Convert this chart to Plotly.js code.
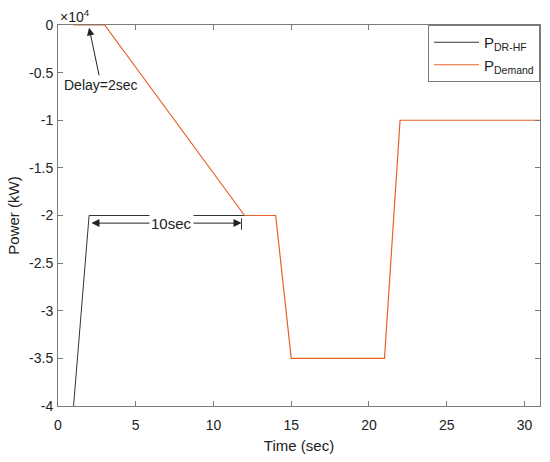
<!DOCTYPE html>
<html><head><meta charset="utf-8">
<script src="https://cdn.plot.ly/plotly-3.0.1.min.js"></script>
<style>body{margin:0;padding:0;background:#fff}#chart{width:550px;height:462px}</style>
</head><body><div id="chart"></div>
<script>
// Time (sec) and power (kW)
const timeDRHF = [1, 2, 12];
const powerDRHF = [-40000, -20000, -20000];
const timeDemand = [1, 3, 12, 14, 15, 21, 22, 31];
const powerDemand = [0, 0, -20000, -20000, -35000, -35000, -10000, -10000];
const xTicks = [0, 5, 10, 15, 20, 25, 30];
const yTickVals = [-40000, -35000, -30000, -25000, -20000, -15000, -10000, -5000, 0];
const yTickText = ['-4', '-3.5', '-3', '-2.5', '-2', '-1.5', '-1', '-0.5', '0'];

const font = 'Liberation Sans, Arial, sans-serif';
const axisCol = '#7a7a7a';
const txtCol = '#222';

const traces = [
  {x: timeDRHF, y: powerDRHF, mode: 'lines', name: 'P<sub>DR-HF</sub>',
   line: {color: '#333333', width: 1}},
  {x: timeDemand, y: powerDemand, mode: 'lines', name: 'P<sub>Demand</sub>',
   line: {color: '#E8602A', width: 1.2}}
];

const axisBase = {
  showgrid: false, zeroline: false, showline: true, linecolor: axisCol, linewidth: 1,
  mirror: 'ticks', ticks: 'inside', ticklen: 5, tickcolor: axisCol,
  tickfont: {family: font, size: 14, color: txtCol}
};

const layout = {
  width: 550, height: 462,
  margin: {l: 58, r: 10, t: 25, b: 56},
  paper_bgcolor: '#fff', plot_bgcolor: '#fff',
  showlegend: true,
  legend: {x: 1, xanchor: 'right', y: 1, yanchor: 'top', itemwidth: 45,
    bordercolor: axisCol, borderwidth: 1, bgcolor: '#fff',
    font: {family: font, size: 15, color: txtCol}, tracegroupgap: 0},
  xaxis: Object.assign({}, axisBase, {
    range: [0, 31], tickvals: xTicks, ticktext: xTicks.map(String), ticklabelstandoff: 6,
    title: {text: 'Time (sec)', font: {family: font, size: 15, color: txtCol}, standoff: 8}
  }),
  yaxis: Object.assign({}, axisBase, {
    range: [-40000, 0], tickvals: yTickVals, ticktext: yTickText, ticklabelstandoff: 1,
    title: {text: 'Power (kW)', font: {family: font, size: 15, color: txtCol}, standoff: 5}
  }),
  shapes: [
    {type: 'line', xref: 'x', yref: 'y', x0: 11.8, x1: 11.8, y0: -20300, y1: -21500,
     line: {color: '#333', width: 1}}
  ],
  annotations: [
    {xref: 'paper', yref: 'paper', x: 0.0, y: 0.995, xanchor: 'left', yanchor: 'bottom',
     text: '×10<sup>4</sup>', showarrow: false, font: {family: font, size: 14, color: txtCol}},
    {xref: 'x', yref: 'y', x: 2, y: -300, text: 'Delay=2sec', showarrow: true,
     arrowhead: 2, arrowsize: 1.5, arrowwidth: 1, arrowcolor: '#222', ax: 12, ay: 57,
     font: {family: font, size: 14, color: txtCol}},
    {xref: 'x', yref: 'y', x: 2.15, y: -20800, axref: 'x', ayref: 'y', ax: 7, ay: -20800,
     text: '', showarrow: true, arrowhead: 2, arrowsize: 1.6, arrowwidth: 1, arrowcolor: '#222'},
    {xref: 'x', yref: 'y', x: 11.8, y: -20800, axref: 'x', ayref: 'y', ax: 7, ay: -20800,
     text: '', showarrow: true, arrowhead: 2, arrowsize: 1.6, arrowwidth: 1, arrowcolor: '#222'},
    {xref: 'x', yref: 'y', x: 7.3, y: -20800, text: '10sec', showarrow: false,
     bgcolor: '#fff', borderpad: 1, font: {family: font, size: 15, color: txtCol}}
  ]
};

Plotly.newPlot('chart', traces, layout, {displayModeBar: false, staticPlot: true});
</script></body></html>
